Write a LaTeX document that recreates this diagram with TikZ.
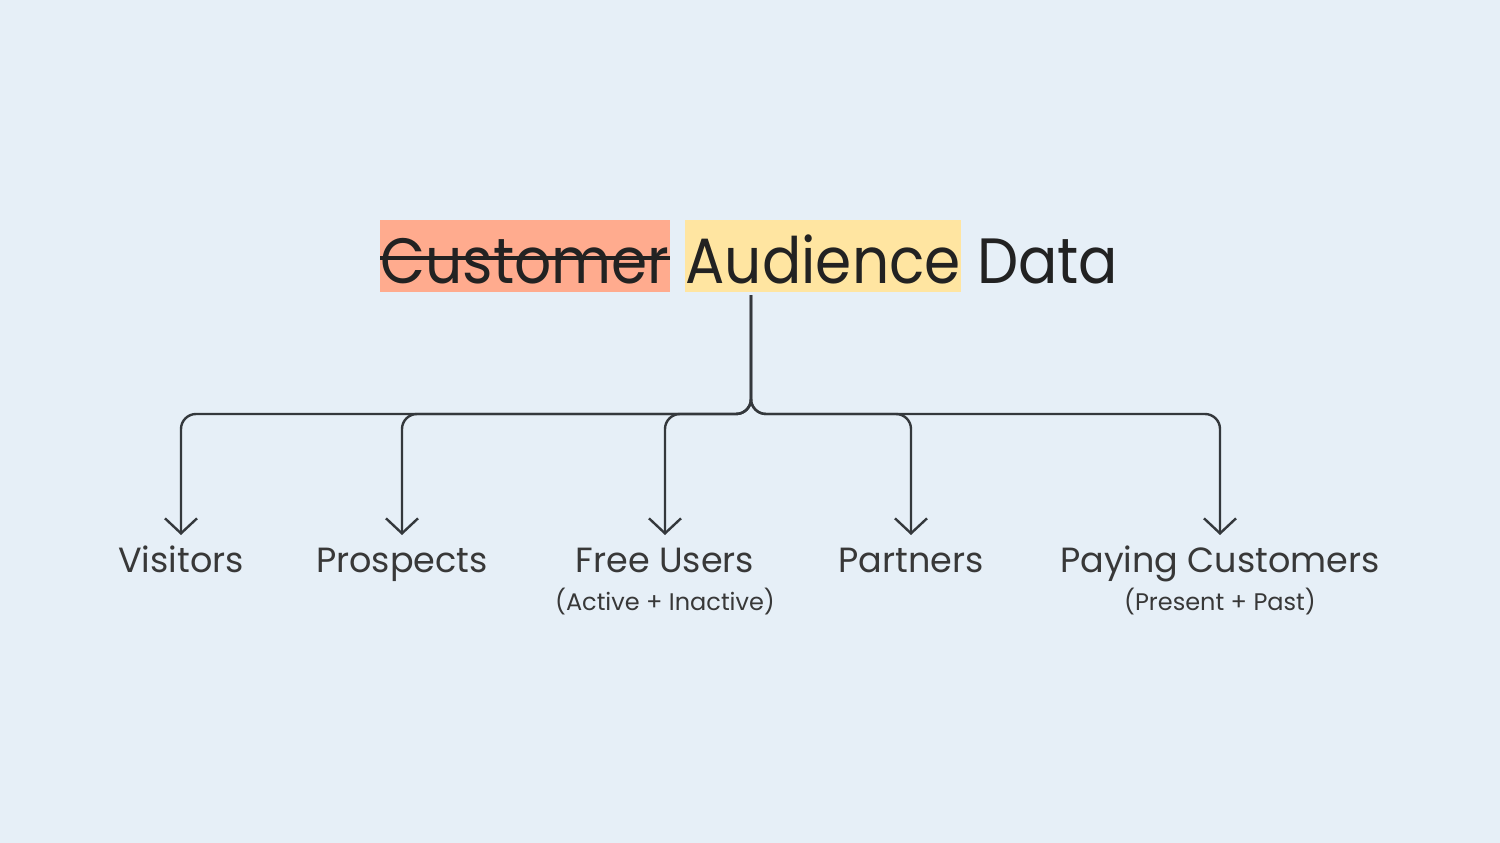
\documentclass[tikz,border=0pt]{standalone}
\usepackage{fontspec}
\setmainfont{Poppins}
\newfontfamily\titlefont[FakeStretch=0.91]{Poppins}
\usetikzlibrary{arrows.meta}
\definecolor{bgc}{HTML}{E6EFF7}
\definecolor{salmon}{HTML}{FFAB8E}
\definecolor{butter}{HTML}{FFE5A1}
\definecolor{ink}{HTML}{222222}
\definecolor{linec}{HTML}{34383C}
\tikzset{
  hl/.style={anchor=west, inner xsep=0pt, inner ysep=0pt, text height=63pt, text depth=9pt, font=\titlefont\fontsize{64}{70}\selectfont, text=ink},
  leaf/.style={anchor=north, inner sep=0pt, text height=37pt, text depth=8pt, font=\fontsize{35}{40}\selectfont, text=ink!90},
  sub/.style={anchor=base, inner sep=0pt, font=\fontsize{24}{28}\selectfont, text=ink!90},
  branch/.style={draw=linec, line width=2.4pt, rounded corners=15pt, -{Straight Barb[length=15pt,width=32pt,line width=2.4pt]}},
}
\begin{document}
\begin{tikzpicture}[x=1pt,y=-1pt]
\useasboundingbox[fill=bgc] (0,0) rectangle (1500,843);
% title
\node[hl, fill=salmon, minimum width=290pt] (cust) at (380,256) {Customer};
\node[hl, fill=butter, minimum width=276pt] (aud) at (685,256) {Audience};
\node[hl] (data) at (977,256) {Data};
\draw[ink, line width=3.5pt] ([yshift=-2pt]cust.west) -- ([yshift=-2pt]cust.east);
\coordinate (root) at (751,295);
% leaves
\node[leaf] (vis) at (181,535) {Visitors};
\node[leaf] (pro) at (402,535) {Prospects};
\node[leaf] (fre) at (665,535) {Free Users};
\node[leaf] (par) at (911,535) {Partners};
\node[leaf] (pay) at (1220,535) {Paying Customers};
\node[sub] (freS) at (665,610) {(Active + Inactive)};
\node[sub] (payS) at (1220,610) {(Present + Past)};
% connectors
\foreach \t in {vis,pro,fre,par,pay}{
  \draw[branch] (root) -- (root |- 0,414) -- (\t.north |- 0,414) -- (\t.north);
}
\end{tikzpicture}
\end{document}
